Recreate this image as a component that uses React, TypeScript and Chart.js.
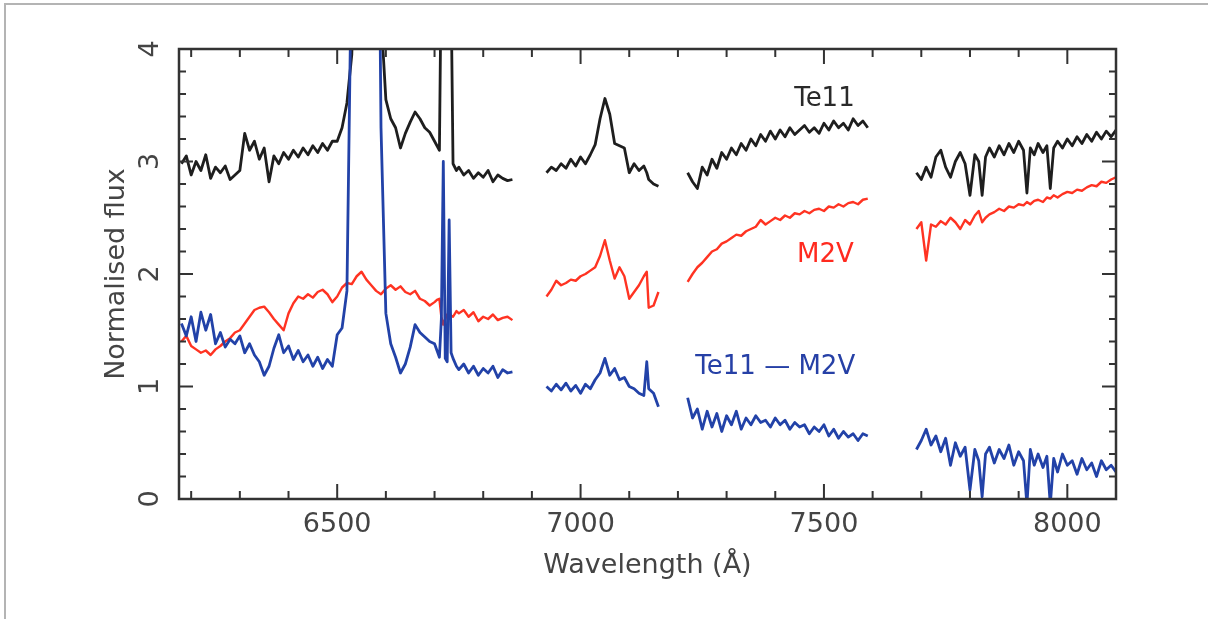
import React, { useEffect, useRef } from "react";
import { Chart, registerables } from "chart.js";

Chart.register(...registerables);

// ---------- axis ticks ----------
const xTickValues = [6500, 7000, 7500, 8000];
const yTickValues = [0, 1, 2, 3, 4];

// ---------- wavelength grids (Å) for the four observed windows ----------
const waveA = [6180, 6190, 6200, 6210, 6220, 6230, 6240, 6250, 6260, 6270, 6280, 6290, 6300, 6310, 6320, 6330, 6340, 6350, 6360, 6370, 6380, 6390, 6400, 6410, 6420, 6430, 6440, 6450, 6460, 6470, 6480, 6490, 6500, 6510, 6520, 6530, 6540, 6550, 6560, 6570, 6580, 6590, 6600, 6610, 6620, 6630, 6640, 6650, 6660, 6670, 6680, 6690, 6700, 6705, 6710, 6714, 6718, 6722, 6726, 6730, 6734, 6738, 6745, 6750, 6760, 6770, 6780, 6790, 6800, 6810, 6820, 6830, 6840, 6850, 6860];
const waveB = [6930, 6940, 6950, 6960, 6970, 6980, 6990, 7000, 7010, 7020, 7030, 7040, 7050, 7060, 7070, 7080, 7090, 7100, 7110, 7120, 7130, 7136, 7140, 7150, 7160];
const waveC = [7220, 7230, 7240, 7250, 7260, 7270, 7280, 7290, 7300, 7310, 7320, 7330, 7340, 7350, 7360, 7370, 7380, 7390, 7400, 7410, 7420, 7430, 7440, 7450, 7460, 7470, 7480, 7490, 7500, 7510, 7520, 7530, 7540, 7550, 7560, 7570, 7580, 7590];
const waveD = [7690, 7700, 7710, 7720, 7730, 7740, 7750, 7760, 7770, 7780, 7790, 7800, 7810, 7818, 7825, 7832, 7840, 7850, 7860, 7870, 7880, 7890, 7900, 7910, 7917, 7924, 7932, 7940, 7950, 7958, 7965, 7972, 7980, 7990, 8000, 8010, 8020, 8030, 8040, 8050, 8060, 8070, 8080, 8090, 8100];

// ---------- Te11 (black) ----------
const te11A = [2.98, 3.05, 2.88, 3.0, 2.92, 3.06, 2.85, 2.95, 2.9, 2.96, 2.84, 2.88, 2.92, 3.25, 3.1, 3.18, 3.02, 3.12, 2.82, 3.05, 2.98, 3.08, 3.02, 3.1, 3.04, 3.12, 3.06, 3.14, 3.08, 3.16, 3.1, 3.18, 3.18, 3.3, 3.52, 3.95, 5.5, 8, 9, 9, 8, 4.3, 3.55, 3.38, 3.3, 3.12, 3.25, 3.35, 3.44, 3.38, 3.3, 3.26, 3.18, 3.14, 3.1, 4.8, 8, 5, 4.4, 8, 4.5, 2.98, 2.92, 2.95, 2.88, 2.92, 2.85, 2.9, 2.86, 2.92, 2.82, 2.88, 2.85, 2.83, 2.84];
const te11B = [2.9, 2.95, 2.92, 2.98, 2.94, 3.02, 2.96, 3.04, 2.98, 3.06, 3.15, 3.38, 3.56, 3.42, 3.16, 3.14, 3.12, 2.9, 2.98, 2.92, 2.96, 2.9, 2.84, 2.8, 2.78];
const te11C = [2.9, 2.82, 2.76, 2.95, 2.88, 3.02, 2.94, 3.08, 3.02, 3.12, 3.06, 3.16, 3.1, 3.2, 3.14, 3.24, 3.18, 3.27, 3.2, 3.28, 3.22, 3.3, 3.24, 3.28, 3.32, 3.26, 3.3, 3.25, 3.34, 3.28, 3.36, 3.3, 3.34, 3.28, 3.38, 3.32, 3.36, 3.3];
const te11D = [2.9, 2.84, 2.95, 2.86, 3.04, 3.1, 2.95, 2.86, 3.0, 3.08, 2.98, 2.7, 3.06, 3.0, 2.7, 3.04, 3.12, 3.04, 3.14, 3.06, 3.16, 3.08, 3.18, 3.1, 2.72, 3.12, 3.06, 3.16, 3.08, 3.14, 2.76, 3.12, 3.18, 3.12, 3.2, 3.14, 3.22, 3.16, 3.24, 3.18, 3.26, 3.2, 3.27, 3.22, 3.28];

// ---------- M2V template (red) ----------
const m2vA = [1.4, 1.45, 1.36, 1.33, 1.3, 1.32, 1.28, 1.33, 1.36, 1.4, 1.43, 1.48, 1.5, 1.56, 1.62, 1.68, 1.7, 1.71, 1.66, 1.6, 1.55, 1.5, 1.65, 1.74, 1.8, 1.78, 1.82, 1.79, 1.84, 1.86, 1.82, 1.75, 1.8, 1.88, 1.92, 1.91, 1.98, 2.02, 1.95, 1.9, 1.85, 1.82, 1.87, 1.9, 1.86, 1.89, 1.84, 1.82, 1.85, 1.78, 1.76, 1.72, 1.75, 1.77, 1.78, 1.62, 1.55, 1.6, 1.64, 1.66, 1.63, 1.62, 1.67, 1.65, 1.68, 1.62, 1.66, 1.58, 1.62, 1.6, 1.64, 1.59, 1.61, 1.62, 1.59];
const m2vB = [1.8, 1.86, 1.94, 1.9, 1.92, 1.95, 1.94, 1.98, 2.0, 2.03, 2.06, 2.16, 2.3, 2.12, 1.96, 2.06, 1.98, 1.78, 1.84, 1.9, 1.98, 2.02, 1.7, 1.72, 1.84];
const m2vC = [1.93, 2.0, 2.06, 2.1, 2.15, 2.2, 2.22, 2.27, 2.29, 2.32, 2.35, 2.34, 2.38, 2.4, 2.42, 2.48, 2.44, 2.47, 2.5, 2.48, 2.52, 2.5, 2.54, 2.53, 2.56, 2.54, 2.57, 2.58, 2.56, 2.6, 2.59, 2.62, 2.6, 2.63, 2.64, 2.62, 2.66, 2.67];
const m2vD = [2.4, 2.46, 2.12, 2.44, 2.42, 2.47, 2.44, 2.5, 2.46, 2.4, 2.48, 2.44, 2.52, 2.56, 2.46, 2.5, 2.53, 2.55, 2.58, 2.56, 2.6, 2.59, 2.62, 2.61, 2.64, 2.62, 2.65, 2.66, 2.64, 2.68, 2.67, 2.7, 2.68, 2.71, 2.73, 2.72, 2.75, 2.74, 2.77, 2.79, 2.78, 2.82, 2.81, 2.84, 2.86];

// ---------- Te11 - M2V difference (blue) ----------
const diffA = [1.56, 1.45, 1.62, 1.4, 1.66, 1.5, 1.64, 1.38, 1.48, 1.35, 1.42, 1.38, 1.45, 1.3, 1.38, 1.28, 1.22, 1.1, 1.18, 1.34, 1.46, 1.3, 1.36, 1.24, 1.32, 1.22, 1.28, 1.18, 1.26, 1.16, 1.24, 1.18, 1.46, 1.52, 1.85, 5, 8, 9, 9, 9, 8, 3.3, 1.65, 1.38, 1.26, 1.12, 1.2, 1.35, 1.55, 1.48, 1.44, 1.4, 1.38, 1.32, 1.26, 1.6, 3.0, 1.25, 1.22, 2.48, 1.3, 1.25, 1.18, 1.15, 1.2, 1.12, 1.18, 1.1, 1.16, 1.12, 1.18, 1.08, 1.15, 1.12, 1.13];
const diffB = [1.0, 0.96, 1.02, 0.97, 1.03, 0.96, 1.01, 0.94, 1.02, 0.98, 1.06, 1.12, 1.25, 1.1, 1.16, 1.06, 1.08, 1.0, 0.98, 0.94, 0.92, 1.22, 0.98, 0.94, 0.82];
const diffC = [0.9, 0.72, 0.8, 0.62, 0.78, 0.64, 0.76, 0.6, 0.74, 0.66, 0.78, 0.62, 0.72, 0.66, 0.74, 0.68, 0.7, 0.64, 0.72, 0.66, 0.7, 0.62, 0.68, 0.64, 0.66, 0.58, 0.64, 0.6, 0.66, 0.56, 0.62, 0.54, 0.6, 0.55, 0.58, 0.52, 0.58, 0.56];
const diffD = [0.44, 0.52, 0.62, 0.48, 0.56, 0.42, 0.54, 0.3, 0.5, 0.38, 0.46, 0.08, 0.44, 0.34, 0.02, 0.4, 0.46, 0.32, 0.44, 0.36, 0.48, 0.3, 0.42, 0.34, -0.05, 0.44, 0.3, 0.4, 0.28, 0.38, -0.05, 0.36, 0.24, 0.4, 0.3, 0.34, 0.22, 0.36, 0.26, 0.32, 0.2, 0.34, 0.26, 0.3, 0.24];

// ---------- in-plot labels (anchored in data units) ----------
const seriesLabels = [
  { text: "Te11", wave: 7501, flux: 3.55, color: "#2a2a2a" },
  { text: "M2V", wave: 7503, flux: 2.17, color: "#ff2a1f" },
  { text: "Te11 \u2014 M2V", wave: 7400, flux: 1.17, color: "#2640a6" },
];

const FONT = "'DejaVu Sans', 'Liberation Sans', sans-serif";
const TEXT_COLOR = "#444444";

function buildPoints(waves: number[][], fluxes: number[][]) {
  const pts: { x: number; y: number | null }[] = [];
  waves.forEach((w, s) => {
    if (s > 0) {
      const prev = waves[s - 1];
      pts.push({ x: (prev[prev.length - 1] + w[0]) / 2, y: null });
    }
    w.forEach((x, i) => pts.push({ x, y: fluxes[s][i] }));
  });
  return pts;
}

const framePlugin = {
  id: "frameTicks",
  afterDatasetsDraw(chart: any) {
    const { ctx, chartArea: a, scales } = chart;
    const xs = scales.x;
    const ys = scales.y;
    ctx.save();
    ctx.strokeStyle = "#333333";
    ctx.lineWidth = 2;
    for (let v = 6200; v <= 8100; v += 100) {
      const px = xs.getPixelForValue(v);
      const len = v % 500 === 0 ? 15 : 8;
      ctx.beginPath();
      ctx.moveTo(px, a.bottom);
      ctx.lineTo(px, a.bottom - len);
      ctx.moveTo(px, a.top);
      ctx.lineTo(px, a.top + len);
      ctx.stroke();
    }
    for (let i = 1; i < 20; i++) {
      const v = i * 0.2;
      const py = ys.getPixelForValue(v);
      const len = i % 5 === 0 ? 14 : 7;
      ctx.beginPath();
      ctx.moveTo(a.left, py);
      ctx.lineTo(a.left + len, py);
      ctx.moveTo(a.right, py);
      ctx.lineTo(a.right - len, py);
      ctx.stroke();
    }
    ctx.lineWidth = 2.5;
    ctx.strokeRect(a.left, a.top, a.right - a.left, a.bottom - a.top);

    ctx.font = `26px ${FONT}`;
    ctx.textAlign = "center";
    ctx.textBaseline = "middle";
    seriesLabels.forEach((l) => {
      ctx.fillStyle = l.color;
      ctx.fillText(l.text, xs.getPixelForValue(l.wave), ys.getPixelForValue(l.flux));
    });
    ctx.restore();
  },
};

export default function App() {
  const canvasRef = useRef<HTMLCanvasElement | null>(null);

  useEffect(() => {
    if (!canvasRef.current) return;
    const waves = [waveA, waveB, waveC, waveD];
    const chart = new Chart(canvasRef.current, {
      type: "line",
      data: {
        datasets: [
          {
            label: "Te11 \u2014 M2V",
            data: buildPoints(waves, [diffA, diffB, diffC, diffD]) as any,
            borderColor: "#2242a8",
            borderWidth: 2.8,
          },
          {
            label: "M2V",
            data: buildPoints(waves, [m2vA, m2vB, m2vC, m2vD]) as any,
            borderColor: "#ff3322",
            borderWidth: 2.4,
          },
          {
            label: "Te11",
            data: buildPoints(waves, [te11A, te11B, te11C, te11D]) as any,
            borderColor: "#1e1e1e",
            borderWidth: 2.8,
          },
        ].map((d) => ({
          ...d,
          pointRadius: 0,
          tension: 0,
          spanGaps: false,
          fill: false,
          borderJoinStyle: "round" as const,
        })),
      },
      options: {
        animation: false,
        responsive: true,
        maintainAspectRatio: false,
        parsing: false as any,
        normalized: true,
        layout: { padding: { top: 49, right: 92, bottom: 0, left: 0 } },
        plugins: { legend: { display: false }, tooltip: { enabled: false } },
        scales: {
          x: {
            type: "linear",
            min: 6175,
            max: 8100,
            afterFit: (s: any) => {
              s.height = 120;
            },
            afterBuildTicks: (s: any) => {
              s.ticks = xTickValues.map((v) => ({ value: v }));
            },
            grid: { display: false, drawTicks: false },
            border: { display: false },
            ticks: {
              font: { family: FONT, size: 27 },
              color: TEXT_COLOR,
              padding: 10,
              maxRotation: 0,
              autoSkip: false,
              callback: (v: any) => String(v),
            },
            title: {
              display: true,
              text: "Wavelength (\u00c5)",
              font: { family: FONT, size: 27 },
              color: TEXT_COLOR,
              padding: { top: 0, bottom: 37 },
            },
          },
          y: {
            type: "linear",
            min: 0,
            max: 4,
            afterFit: (s: any) => {
              s.width = 179;
            },
            afterBuildTicks: (s: any) => {
              s.ticks = yTickValues.map((v) => ({ value: v }));
            },
            grid: { display: false, drawTicks: false },
            border: { display: false },
            ticks: {
              font: { family: FONT, size: 27 },
              color: TEXT_COLOR,
              padding: 19,
              minRotation: 90,
              maxRotation: 90,
              crossAlign: "center",
              autoSkip: false,
              callback: (v: any) => String(v),
            },
            title: {
              display: true,
              text: "Normalised flux",
              font: { family: FONT, size: 27 },
              color: TEXT_COLOR,
              padding: { top: 101, bottom: 0 },
            },
          },
        },
      },
      plugins: [framePlugin],
    });
    return () => chart.destroy();
  }, []);

  return (
    <div
      style={{
        position: "fixed",
        left: 0,
        top: 0,
        width: 1208,
        height: 619,
        background: "#ffffff",
        overflow: "hidden",
      }}
    >
      <div
        style={{
          position: "absolute",
          left: 4,
          top: 3,
          width: 1300,
          height: 700,
          borderLeft: "2px solid #b4b4b4",
          borderTop: "2px solid #b4b4b4",
          pointerEvents: "none",
        }}
      />
      <canvas ref={canvasRef} style={{ position: "absolute", left: 0, top: 0 }} />
    </div>
  );
}
